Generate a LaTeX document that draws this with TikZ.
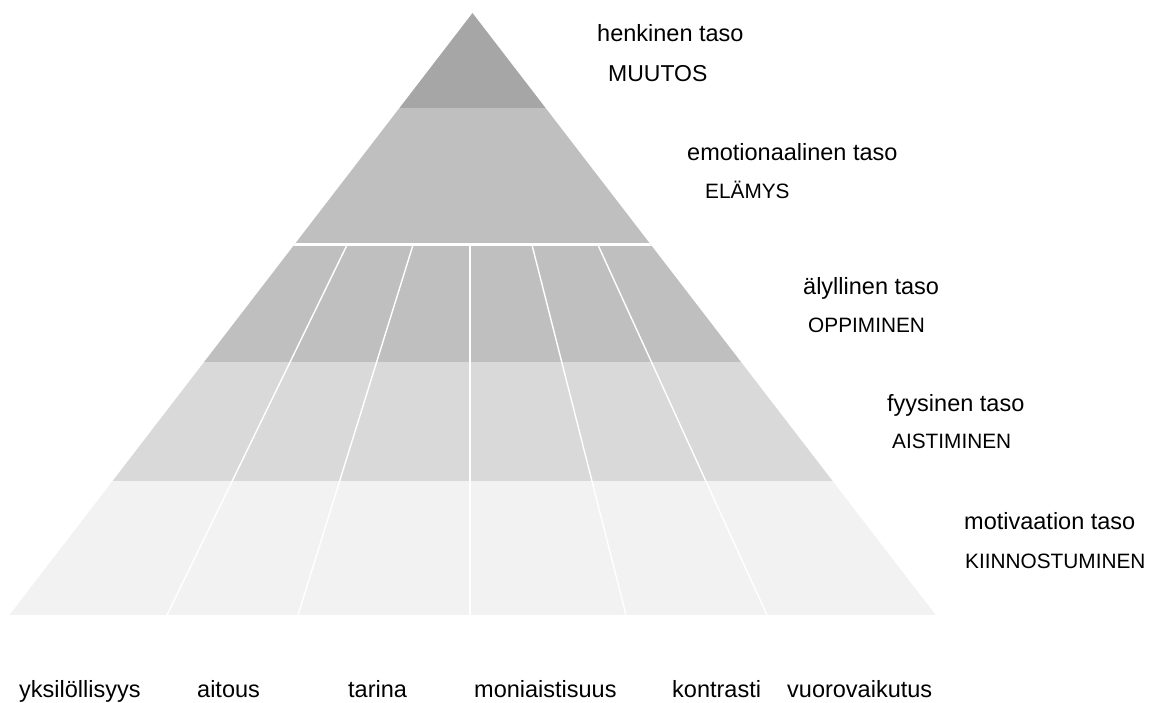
\documentclass[tikz,border=0pt]{standalone}
\usepackage{fontspec}
\setmainfont{Liberation Sans}
\definecolor{ctop}{HTML}{A6A6A6}
\definecolor{cmid}{HTML}{BFBFBF}
\definecolor{clow}{HTML}{D9D9D9}
\definecolor{cbase}{HTML}{F2F2F2}
\tikzset{pyr/.style={x=1pt,y=-1pt}}
\tikzset{lvlname/.style={anchor=base west,inner sep=0pt,font=\fontsize{23.5}{28}\selectfont},
         lvlcap/.style={anchor=base west,inner sep=0pt,font=\fontsize{20.8}{25}\selectfont},
         colname/.style={anchor=base west,inner sep=0pt,font=\fontsize{23.5}{28}\selectfont},
         divider/.style={white,line width=1.4pt}}
\begin{document}
\begin{tikzpicture}[pyr]
    \useasboundingbox (0,0) rectangle (1158,702);
    \begin{scope}
      \clip (472.5,13) -- (935.7,615) -- (9.5,615) -- cycle;
      \fill[ctop]  (0,0)   rectangle (1158,108);
      \fill[cmid]  (0,108) rectangle (1158,362);
      \fill[clow]  (0,362) rectangle (1158,481);
      \fill[cbase] (0,481) rectangle (1158,615);
      \fill[white] (0,243) rectangle (1158,246);   % gap under the emotional level
    \end{scope}
    \foreach \a/\b in {347/167,413/298,470/470,532/626,598/767}
      \draw[divider] (\a,245) -- (\b,615);
    % level names on the right
    \node[lvlname] (henk) at (597,41)  {henkinen taso};
    \node[lvlcap,font=\fontsize{23}{27}\selectfont] (muutos) at (608,81) {MUUTOS};
    \node[lvlname] (emot) at (687,160) {emotionaalinen taso};
    \node[lvlcap]  (elamys) at (705,198) {ELÄMYS};
    \node[lvlname] (alyl) at (803,294) {älyllinen taso};
    \node[lvlcap]  (oppim) at (808,332) {OPPIMINEN};
    \node[lvlname] (fyys) at (887,411) {fyysinen taso};
    \node[lvlcap]  (aistim) at (892,448) {AISTIMINEN};
    \node[lvlname] (motiv) at (964,529) {motivaation taso};
    \node[lvlcap]  (kiinn) at (965,568) {KIINNOSTUMINEN};
    % column names under the base
    \node[colname] (yksil) at (19,697)  {yksilöllisyys};
    \node[colname] (aitous) at (197,697) {aitous};
    \node[colname] (tarina) at (348,697) {tarina};
    \node[colname] (moni) at (474,697) {moniaistisuus};
    \node[colname] (kontr) at (672,697) {kontrasti};
    \node[colname] (vuoro) at (787,697) {vuorovaikutus};
\end{tikzpicture}
\end{document}
